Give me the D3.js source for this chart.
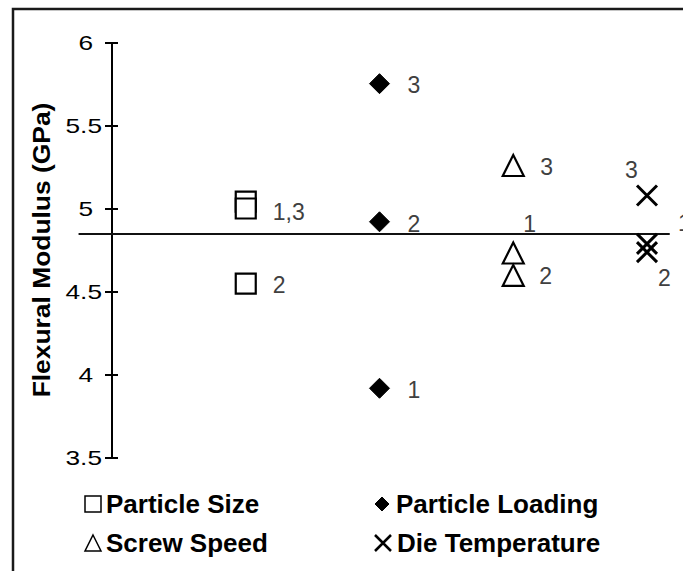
<!DOCTYPE html>
<html>
<head>
<meta charset="utf-8">
<script src="https://cdn.jsdelivr.net/npm/d3@7/dist/d3.min.js"></script>
<style>
  body { margin: 0; background: #fff; }
  svg { display: block; font-family: "Liberation Sans", Arial, sans-serif; }
</style>
</head>
<body>
<svg id="chart" width="683" height="571"></svg>
<script>
// factors (series) and their x position on the hidden category axis
var factors = ["Particle Size", "Particle Loading", "Screw Speed", "Die Temperature"];
var factorX = [1, 2, 3, 4];
var markerTypes = ["square", "diamond", "triangle", "cross"];
// flexural modulus (GPa) for level 1, 2, 3 of each factor
var levelValues = [
  [5.045, 4.551, 5.003],
  [3.92, 4.923, 5.755],
  [4.735, 4.60, 5.262],
  [4.79, 4.74, 5.081]
];
var levelLabels = [
  ["", "2", "1,3"],
  ["1", "2", "3"],
  ["1", "2", "3"],
  ["1", "2", "3"]
];
// label offsets from the marker (px)
var labelOffsets = [
  [[0, 0], [27, 1], [27, 3]],
  [[28, 1.5], [28, 2], [28, 1.5]],
  [[10, -29], [26, 1], [27, 1]],
  [[31, -21], [11, 25.5], [-22, -25.5]]
];
var grandMean = 4.849;
var meanLineX = [-0.25, 4.17];
var yTicks = [3.5, 4, 4.5, 5, 5.5, 6];

var svg = d3.select("#chart");

var x = d3.scaleLinear().domain([0, 4]).range([112, 647]);
var y = d3.scaleLinear().domain([3.5, 6]).range([458, 43]);

// frame (only top and left edges are visible)
svg.append("path")
    .attr("d", "M13,571 V9 H683")
    .attr("fill", "none")
    .attr("stroke", "#1a1a1a")
    .attr("stroke-width", 2.5);

// y axis with crossing ticks
var axis = svg.append("g").attr("class", "y-axis");
axis.append("line")
    .attr("x1", x(0)).attr("x2", x(0))
    .attr("y1", y(6)).attr("y2", y(3.5))
    .attr("stroke", "#000").attr("stroke-width", 2);
axis.selectAll(".tick")
    .data(yTicks)
    .enter().append("line")
      .attr("x1", x(0) - 7).attr("x2", x(0) + 6)
      .attr("y1", function(d) { return y(d); })
      .attr("y2", function(d) { return y(d); })
      .attr("stroke", "#000").attr("stroke-width", 2);
axis.selectAll(".tick-label")
    .data(yTicks)
    .enter().append("text")
      .attr("transform", function(d) {
        var tx = Number.isInteger(d) ? x(0) - 19 : x(0) - 10;
        return "translate(" + tx + "," + y(d) + ") scale(1.25,1)";
      })
      .attr("dy", "0.35em")
      .attr("text-anchor", "end")
      .attr("font-size", 21)
      .attr("fill", "#000")
      .text(function(d) { return d; });

svg.append("text")
    .attr("transform", "translate(50,250) rotate(-90) scale(1.1,1)")
    .attr("text-anchor", "middle")
    .attr("font-size", 24)
    .attr("font-weight", "bold")
    .text("Flexural Modulus (GPa)");

// grand mean line
svg.append("line")
    .attr("x1", x(meanLineX[0])).attr("x2", x(meanLineX[1]))
    .attr("y1", y(grandMean)).attr("y2", y(grandMean))
    .attr("stroke", "#111").attr("stroke-width", 2);

function markerPath(type, h) {
  if (type == "square") return "M" + (-h) + "," + (-h) + "H" + h + "V" + h + "H" + (-h) + "Z";
  if (type == "diamond") return "M0," + (-h) + "L" + h + ",0L0," + h + "L" + (-h) + ",0Z";
  if (type == "triangle") return "M0," + (-h) + "L" + h + "," + h + "L" + (-h) + "," + h + "Z";
  return "M" + (-h) + "," + (-h) + "L" + h + "," + h + "M" + h + "," + (-h) + "L" + (-h) + "," + h;
}
function markerStyle(sel, type) {
  if (type == "diamond") {
    sel.attr("fill", "#000").attr("stroke", "#000").attr("stroke-width", 1);
  } else if (type == "cross") {
    sel.attr("fill", "none").attr("stroke", "#000").attr("stroke-width", 3);
  } else {
    sel.attr("fill", "#fff").attr("stroke", "#000").attr("stroke-width", 2.2);
  }
}

var points = [];
factors.forEach(function(f, i) {
  levelValues[i].forEach(function(v, j) {
    points.push({ f: i, level: j, x: factorX[i], y: v, label: levelLabels[i][j], off: labelOffsets[i][j] });
  });
});

var marks = svg.append("g").attr("class", "points");
marks.selectAll("path")
    .data(points)
    .enter().append("path")
      .attr("transform", function(d) { return "translate(" + x(d.x) + "," + y(d.y) + ")"; })
      .attr("d", function(d) { return markerPath(markerTypes[d.f], d.f == 2 ? 10.5 : 10); })
      .each(function(d) { markerStyle(d3.select(this), markerTypes[d.f]); });

marks.selectAll("text")
    .data(points.filter(function(d) { return d.label != ""; }))
    .enter().append("text")
      .attr("x", function(d) { return x(d.x) + d.off[0]; })
      .attr("y", function(d) { return y(d.y) + d.off[1]; })
      .attr("dy", "0.35em")
      .attr("font-size", 23)
      .attr("fill", "#404040")
      .text(function(d) { return d.label; });

// legend, two columns
var legendPos = [[93, 504], [382, 504], [93, 543], [383, 543]];
var legend = svg.append("g").attr("class", "legend");
var item = legend.selectAll("g")
    .data(factors)
    .enter().append("g")
      .attr("transform", function(d, i) { return "translate(" + legendPos[i][0] + "," + legendPos[i][1] + ")"; });
item.append("path")
    .attr("d", function(d, i) { return markerPath(markerTypes[i], i == 1 ? 7 : 8); })
    .each(function(d, i) {
      var sel = d3.select(this);
      markerStyle(sel, markerTypes[i]);
      if (markerTypes[i] == "cross") sel.attr("stroke-width", 2.5);
      else if (markerTypes[i] != "diamond") sel.attr("stroke-width", 1.5);
    });
item.append("text")
    .attr("x", function(d, i) { return i % 2 == 0 ? 13 : 14; })
    .attr("y", 9)
    .attr("font-size", 26)
    .attr("font-weight", "bold")
    .text(function(d) { return d; });
</script>
</body>
</html>
